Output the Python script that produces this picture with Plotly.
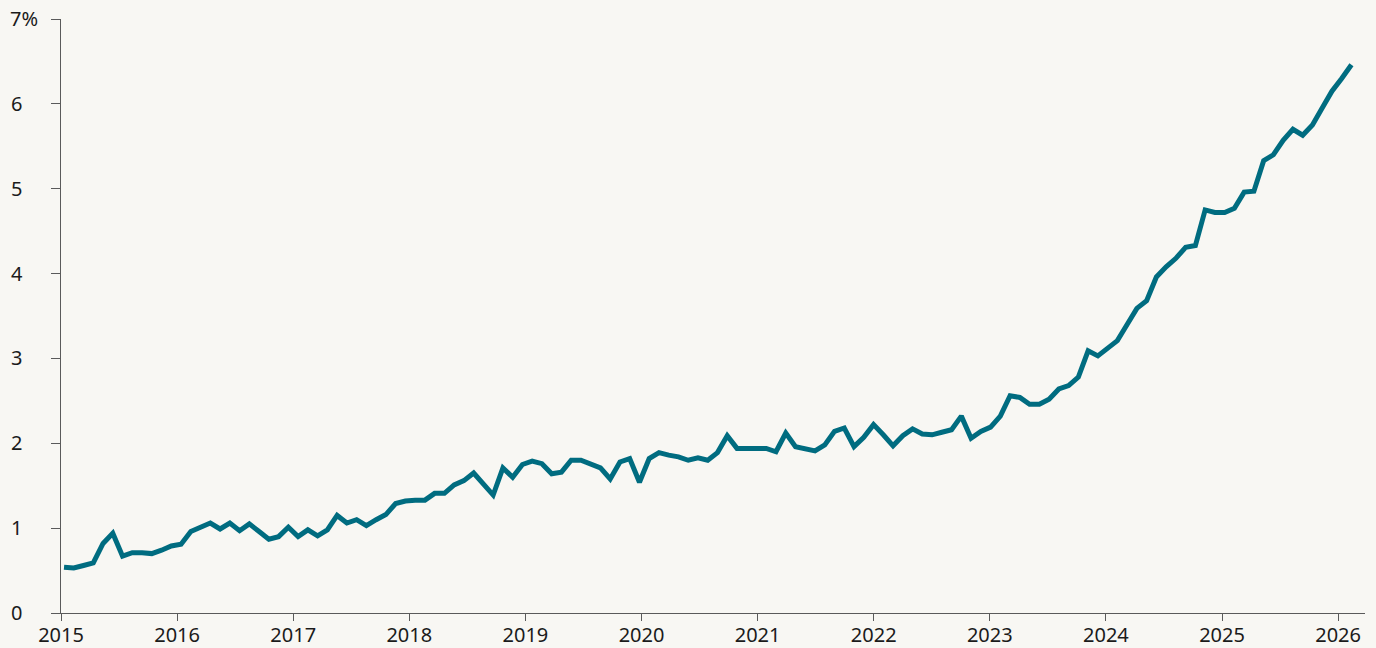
import plotly.graph_objects as go

# ---- data: monthly observations, Jan 2015 - Jan 2026 (percent) ----
v2015 = [0.54, 0.53, 0.56, 0.59, 0.82, 0.94, 0.67, 0.71, 0.71, 0.70, 0.74, 0.79]
v2016 = [0.81, 0.96, 1.01, 1.06, 0.99, 1.06, 0.97, 1.05, 0.96, 0.87, 0.90, 1.01]
v2017 = [0.90, 0.98, 0.91, 0.98, 1.15, 1.06, 1.10, 1.03, 1.10, 1.16, 1.29, 1.32]
v2018 = [1.33, 1.33, 1.41, 1.41, 1.51, 1.56, 1.65, 1.51, 1.39, 1.71, 1.60, 1.75]
v2019 = [1.79, 1.76, 1.64, 1.66, 1.80, 1.80, 1.75, 1.71, 1.58, 1.78, 1.82, 1.54]
v2020 = [1.82, 1.89, 1.86, 1.84, 1.80, 1.83, 1.80, 1.89, 2.09, 1.94, 1.94, 1.94]
v2021 = [1.94, 1.90, 2.12, 1.96, 1.93, 1.91, 1.98, 2.14, 2.18, 1.96, 2.07, 2.22]
v2022 = [2.10, 1.97, 2.09, 2.17, 2.11, 2.10, 2.13, 2.16, 2.32, 2.06, 2.14, 2.19]
v2023 = [2.32, 2.56, 2.54, 2.46, 2.46, 2.52, 2.64, 2.68, 2.78, 3.09, 3.03, 3.12]
v2024 = [3.21, 3.40, 3.59, 3.68, 3.96, 4.08, 4.18, 4.31, 4.33, 4.75, 4.72, 4.72]
v2025 = [4.77, 4.96, 4.97, 5.33, 5.40, 5.57, 5.70, 5.63, 5.75, 5.95, 6.15, 6.30]
v2026 = [6.46]

years_data = [v2015, v2016, v2017, v2018, v2019, v2020,
              v2021, v2022, v2023, v2024, v2025, v2026]
first_year = 2015

year_labels = ["2015", "2016", "2017", "2018", "2019", "2020",
               "2021", "2022", "2023", "2024", "2025", "2026"]
y_ticks = [0, 1, 2, 3, 4, 5, 6, 7]

# ---- build the series ----
values = []
months = []
for k, vals in enumerate(years_data):
    for m, v in enumerate(vals):
        values.append(v)
        months.append(f"{first_year + k}-{m + 1:02d}")
obs = list(range(len(values)))  # observation number (one per month)

# The original chart spaces its year ticks slightly tighter than
# 12 observations; express tick positions in observation units.
OBS_PER_YEAR_TICK = 11.904
FIRST_TICK = -0.31
x_tickvals = [FIRST_TICK + OBS_PER_YEAR_TICK * k for k in range(len(year_labels))]

PAD = "\u00a0\u00a0\u00a0"
y_ticktext = [f"{t}%" if t == y_ticks[-1] else f"{t}{PAD}" for t in y_ticks]

LINE = "#006c80"
AXIS = "#5a5a5a"
BG = "#f8f7f3"
FONT = dict(family="Noto Sans, Open Sans, sans-serif", size=20, color="#1b1b1b")

fig = go.Figure(
    go.Scatter(
        x=obs,
        y=values,
        mode="lines",
        line=dict(color=LINE, width=5),
        text=months,
        hovertemplate="%{text}: %{y:.2f}%<extra></extra>",
        showlegend=False,
    )
)

fig.update_layout(
    width=1376,
    height=648,
    paper_bgcolor=BG,
    plot_bgcolor=BG,
    margin=dict(l=61, r=11, t=19, b=35, autoexpand=False),
    font=FONT,
    showlegend=False,
)

fig.update_xaxes(
    range=[FIRST_TICK, 133.39],
    tickmode="array",
    tickvals=x_tickvals,
    ticktext=year_labels,
    showgrid=False,
    zeroline=False,
    showline=True,
    linecolor=AXIS,
    linewidth=1,
    ticks="outside",
    ticklen=7,
    tickcolor=AXIS,
    tickwidth=1,
    tickfont=FONT,
    ticklabelstandoff=-3,
    automargin=False,
)

fig.update_yaxes(
    range=[0, 7],
    tickmode="array",
    tickvals=y_ticks,
    ticktext=y_ticktext,
    showgrid=False,
    zeroline=False,
    showline=True,
    linecolor=AXIS,
    linewidth=1,
    ticks="outside",
    ticklen=9,
    tickcolor=AXIS,
    tickwidth=1,
    tickfont=FONT,
    ticklabelstandoff=9,
    automargin=False,
)

fig.write_html(
    "out.html",
    config={"displayModeBar": False},
    post_script=(
        "document.body.style.margin='0';"
        "document.body.style.padding='0';"
        "document.body.style.background='" + BG + "';"
        "document.body.style.overflow='hidden';"
    ),
)
